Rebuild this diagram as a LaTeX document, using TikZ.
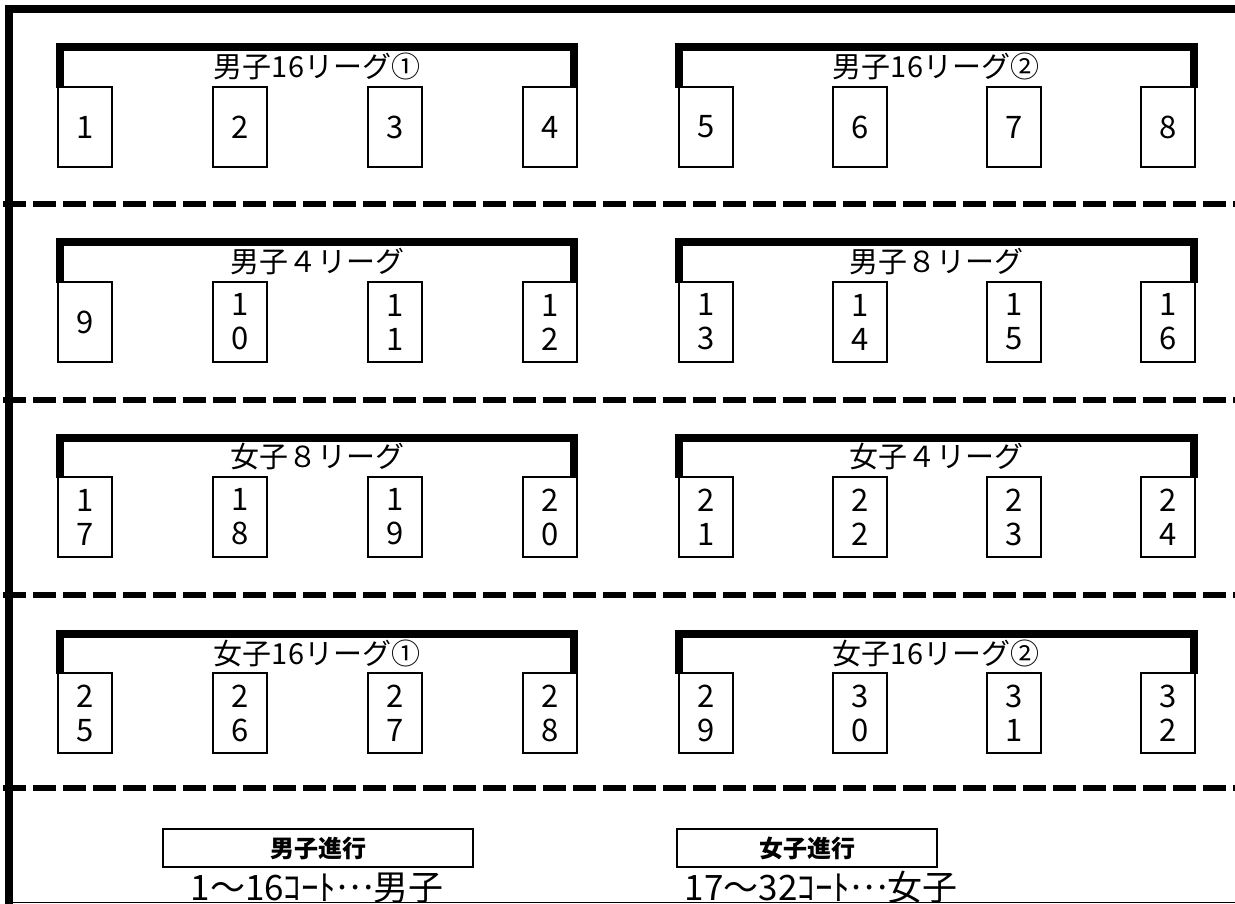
\documentclass[tikz,border=0pt]{standalone}
\usepackage{fontspec}
\setmainfont{Noto Sans CJK JP}
\newcommand{\midellipsis}{\raisebox{0.3em}{…}}
\begin{document}
\begin{tikzpicture}[x=1pt,y=-1pt,
  court/.style={draw, line width=2.5pt, minimum width=54pt, minimum height=80pt, inner sep=0pt, align=center, font=\fontsize{31}{34}\selectfont},
  bracketline/.style={line width=8pt, line join=miter},
  sepline/.style={line width=6pt, dash pattern=on 23pt off 7pt},
  leaguetitle/.style={font=\fontsize{29}{30}\selectfont, inner sep=0pt},
  progbox/.style={draw, line width=2pt, minimum height=38pt, inner sep=0pt, font=\fontsize{24}{26}\selectfont\bfseries},
  courtnote/.style={font=\fontsize{35}{38}\selectfont, inner sep=0pt, anchor=base}]
\useasboundingbox (0,0) rectangle (1235,904);
\clip (0,0) rectangle (1235,904);
% separators
\foreach \yy in {204,400,595,788}
  \draw[sepline] (3,\yy) -- (1240,\yy);
% frame
\draw[line width=7.5pt, line join=miter] (8.8,910) -- (8.8,8.8) -- (1240,8.8);
\draw[line width=1pt] (9,902.5) -- (1240,902.5);
% courts
\foreach \yy/\r in {127/0,322/1,517/2,713/3} {
  \foreach \xx [count=\i from 1] in {85,240,395,550,706,860,1014,1168} {
    \pgfmathtruncatemacro\n{8*\r+\i}
    \pgfmathtruncatemacro\da{int(\n/10)}
    \pgfmathtruncatemacro\db{mod(\n,10)}
    \ifnum\n<10 \edef\lab{\n}\else\edef\lab{\da\noexpand\\\db}\fi
    \node[court] (c\n) at (\xx,\yy) {\lab};
  }
  \pgfmathsetmacro\by{\yy-79.5}
  \draw[bracketline] (60,\yy-39) -- (60,\by) -- (574,\by) -- (574,\yy-39);
  \draw[bracketline] (679,\yy-39) -- (679,\by) -- (1194,\by) -- (1194,\yy-39);
}
% titles
\node[leaguetitle] (t1) at (317,66.5) {男子16リーグ①};
\node[leaguetitle] (t2) at (936,66.5) {男子16リーグ②};
\node[leaguetitle] (t3) at (317,262) {男子４リーグ};
\node[leaguetitle] (t4) at (936,262) {男子８リーグ};
\node[leaguetitle] (t5) at (317,457) {女子８リーグ};
\node[leaguetitle] (t6) at (936,457) {女子４リーグ};
\node[leaguetitle] (t7) at (317,653) {女子16リーグ①};
\node[leaguetitle] (t8) at (936,653) {女子16リーグ②};
% bottom
\node[progbox, minimum width=310pt] (b1) at (318,848) {男子進行};
\node[progbox, minimum width=260pt] (b2) at (807,848) {女子進行};
\node[courtnote] (n1) at (317,900) {1～16ｺｰﾄ\midellipsis 男子};
\node[courtnote] (n2) at (821,900) {17～32ｺｰﾄ\midellipsis 女子};
\end{tikzpicture}
\end{document}
